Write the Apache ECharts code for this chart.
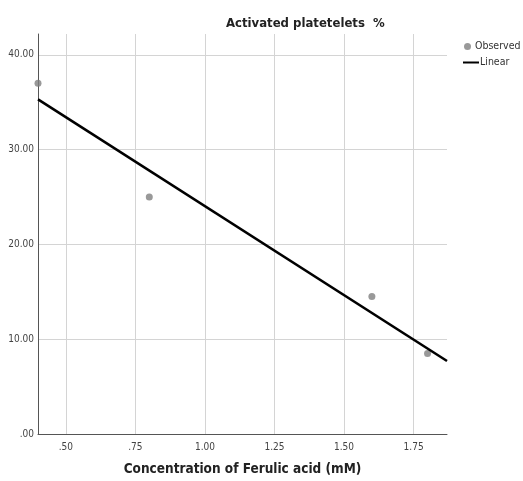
<!DOCTYPE html>
<html>
<head>
<meta charset="utf-8">
<script src="https://cdn.jsdelivr.net/npm/echarts@6/dist/echarts.min.js"></script>
<style>html,body{margin:0;padding:0;background:#fff}#c{width:523px;height:481px}</style>
</head>
<body>
<div id="c"></div>
<script>
const titleText = 'Activated platetelets  %';
const xName = 'Concentration of Ferulic acid (mM)';
const xObserved = [0.4, 0.8, 1.6, 1.8];
const yObserved = [37.0, 25.0, 14.5, 8.5];
const lineX = [0.4, 1.87];
const lineY = [35.3, 7.7];
const xTicks = [0.5, 0.75, 1.0, 1.25, 1.5, 1.75];
const yTicks = [0, 10, 20, 30, 40];

const ctx = document.createElement('canvas').getContext('2d');
function width(text, weight, size, fam) {
  ctx.font = weight + ' ' + size + 'px ' + fam;
  return ctx.measureText(text).width;
}
function available(fam) {
  const t = 'Concentration of Ferulic acid 0123';
  return width(t, 'normal', 40, '"' + fam + '", monospace') !== width(t, 'normal', 40, 'monospace');
}
const candidates = ['Liberation Sans Narrow', 'Arial Narrow', 'DejaVu Sans Condensed', 'Liberation Sans'];
const FAM = candidates.find(available) || 'sans-serif';
const FONT = '"' + FAM + '", sans-serif';
const titleSize = 13;
const nameSize = 13.5;
const legendSize = 10.5;
const tickSize = 10;
const titleLeft = Math.round(300 - width(titleText, 'bold', titleSize, FONT) / 2);

function fmt(v) {
  const s = Number(v).toFixed(2);
  return s.startsWith('0') ? s.slice(1) : s;
}
const chart = echarts.init(document.getElementById('c'), null, {renderer: 'canvas'});
chart.setOption({
  animation: false,
  backgroundColor: '#fff',
  title: {
    text: titleText, left: titleLeft, top: 12,
    textStyle: {fontFamily: FONT, fontWeight: 'bold', fontSize: titleSize, color: '#222'}
  },
  legend: [
    {data: [{name: 'Observed', icon: 'circle'}], orient: 'vertical', left: 459, top: 36,
     itemWidth: 7, itemHeight: 7, itemStyle: {color: '#7f7f7f'},
     textStyle: {fontFamily: FONT, fontSize: legendSize, color: '#333', padding: [0, 0, 0, -1]}},
    {data: [{name: 'Linear', icon: 'rect'}], orient: 'vertical', left: 458, top: 52,
     itemWidth: 16, itemHeight: 2, itemStyle: {color: '#000'},
     textStyle: {fontFamily: FONT, fontSize: legendSize, color: '#333', padding: [0, 0, 0, -4]}}
  ],
  grid: {left: 38, right: 76, top: 34, bottom: 47, containLabel: false},
  xAxis: {
    type: 'value', min: 0.4, max: 1.87,
    name: xName, nameLocation: 'middle', nameGap: 28,
    nameTextStyle: {fontFamily: FONT, fontWeight: 'bold', fontSize: nameSize, color: '#222'},
    axisLine: {show: true, lineStyle: {color: '#555', width: 1}},
    axisTick: {show: false, customValues: xTicks},
    axisLabel: {customValues: xTicks, formatter: fmt, margin: 8, fontFamily: FONT, fontSize: tickSize, color: '#444'},
    splitLine: {show: true, lineStyle: {color: '#d4d4d4', width: 1}}
  },
  yAxis: {
    type: 'value', min: 0, max: 42.2,
    axisLine: {show: true, lineStyle: {color: '#555', width: 1}},
    axisTick: {show: false, customValues: yTicks},
    axisLabel: {customValues: yTicks, formatter: fmt, margin: 4, fontFamily: FONT, fontSize: tickSize, color: '#444'},
    splitLine: {show: true, lineStyle: {color: '#d4d4d4', width: 1}}
  },
  series: [
    {
      name: 'Observed', type: 'scatter', symbol: 'circle', symbolSize: 7,
      itemStyle: {color: '#7f7f7f'},
      data: xObserved.map((x, i) => [x, yObserved[i]])
    },
    {
      name: 'Linear', type: 'line', symbol: 'none', clip: true,
      lineStyle: {color: '#000', width: 2.5},
      itemStyle: {color: '#000'},
      data: lineX.map((x, i) => [x, lineY[i]])
    }
  ]
});
</script>
</body>
</html>
